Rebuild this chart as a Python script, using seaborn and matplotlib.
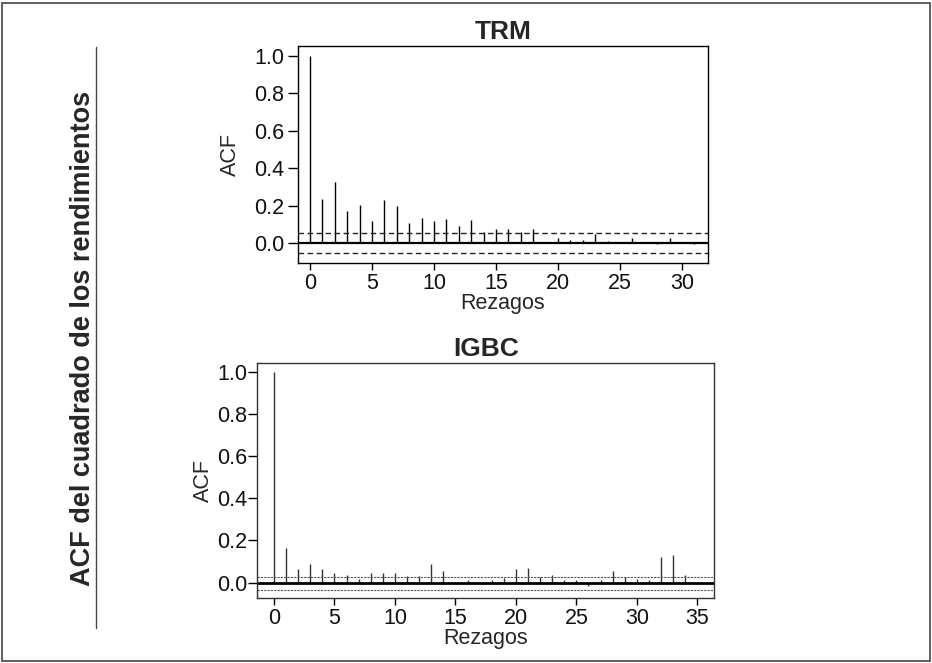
import matplotlib
matplotlib.use("Agg")
import matplotlib.pyplot as plt
import seaborn as sns
import numpy as np
from matplotlib import font_manager

sns.set_style("ticks")

names = {f.name for f in font_manager.fontManager.ttflist}
base = "Liberation Sans" if "Liberation Sans" in names else "DejaVu Sans"
plt.rcParams['font.family'] = [base, 'DejaVu Sans']

# ---- data ----
trm_lags = list(range(0, 32))
trm_acf = [1.0, 0.234, 0.325, 0.171, 0.203, 0.118, 0.230, 0.200, 0.107, 0.132,
           0.118, 0.128, 0.093, 0.121, 0.059, 0.073, 0.073, 0.059, 0.073, 0.002,
           0.025, 0.014, 0.018, 0.046, 0.011, 0.004, 0.025, 0.007, -0.005, 0.025,
           0.007, -0.004]
trm_ci = [0.054, -0.051]

igbc_lags = list(range(0, 36))
igbc_acf = [1.0, 0.164, 0.065, 0.088, 0.063, 0.044, 0.036, 0.019, 0.046, 0.044,
            0.044, 0.030, 0.030, 0.088, 0.055, 0.002, 0.013, 0.003, 0.013, 0.022,
            0.063, 0.071, 0.028, 0.036, 0.013, 0.013, -0.016, 0.013, 0.055, 0.028,
            0.019, 0.013, 0.123, 0.130, 0.038, -0.006]
igbc_ci = [0.028, -0.036]

yticks = [0.0, 0.2, 0.4, 0.6, 0.8, 1.0]
ytick_labels = ["0.0", "0.2", "0.4", "0.6", "0.8", "1.0"]

fig = plt.figure(figsize=(9.32, 6.63), dpi=100)

ax1 = fig.add_axes([298/932, 1-263/663, 410/932, 217/663])
ax2 = fig.add_axes([257.3/932, 1-598/663, 457/932, 235.3/663])

def draw(ax, lags, acf, ci, xlim, ylim, xticks, title, col, ci_style, spine_col,
         ylen, ypad, ylabpad, zlw):
    ax.vlines(lags, 0, acf, color=col, linewidth=1.0)
    ax.axhline(0, color="black", linewidth=zlw)
    for c in ci:
        ax.axhline(c, color=ci_style[0], linewidth=ci_style[1], linestyle=(0, ci_style[2]))
    ax.set_xlim(*xlim)
    ax.set_ylim(*ylim)
    ax.set_xticks(xticks)
    ax.set_yticks(yticks)
    ax.set_yticklabels(ytick_labels)
    ax.tick_params(axis="both", labelsize=15.5, width=1, color="black",
                   labelcolor="#111111")
    ax.tick_params(axis="x", length=5, pad=2.5)
    ax.tick_params(axis="y", length=ylen, pad=ypad)
    ax.set_xlabel("Rezagos", fontsize=15.5, labelpad=-1)
    ax.set_ylabel("ACF", fontsize=15.5, labelpad=ylabpad)
    ax.set_title(title, fontsize=19, fontweight="bold", pad=5)
    for s in ax.spines.values():
        s.set_visible(True)
        s.set_color(spine_col)
        s.set_linewidth(1.0)

draw(ax1, trm_lags, trm_acf, trm_ci, (-0.97, 32.1), (-0.107, 1.053),
     [0, 5, 10, 15, 20, 25, 30], "TRM", "black", ("#222222", 1.0, (4, 2.5)), "black",
     7, 3, 9, 1.6)
draw(ax2, igbc_lags, igbc_acf, igbc_ci, (-1.38, 36.4), (-0.073, 1.043),
     [0, 5, 10, 15, 20, 25, 30, 35], "IGBC", "#333333", ("#555555", 0.8, (2, 1)), "#333333",
     6.5, 1, 2, 2.0)

fig.text(83/932, 1-338/663, "ACF del cuadrado de los rendimientos", rotation=90,
         ha="center", va="center", fontsize=19.5, fontweight="bold")
fig.add_artist(plt.Line2D([96/932, 96/932], [1-47/663, 1-628/663], color="#444444",
                          linewidth=1.0, transform=fig.transFigure))
fig.add_artist(plt.Rectangle((2/932, 2/663), 928/932, 658/663, fill=False,
                             edgecolor="#444444", linewidth=1.2, transform=fig.transFigure))

fig.savefig("out.png", dpi=100)
